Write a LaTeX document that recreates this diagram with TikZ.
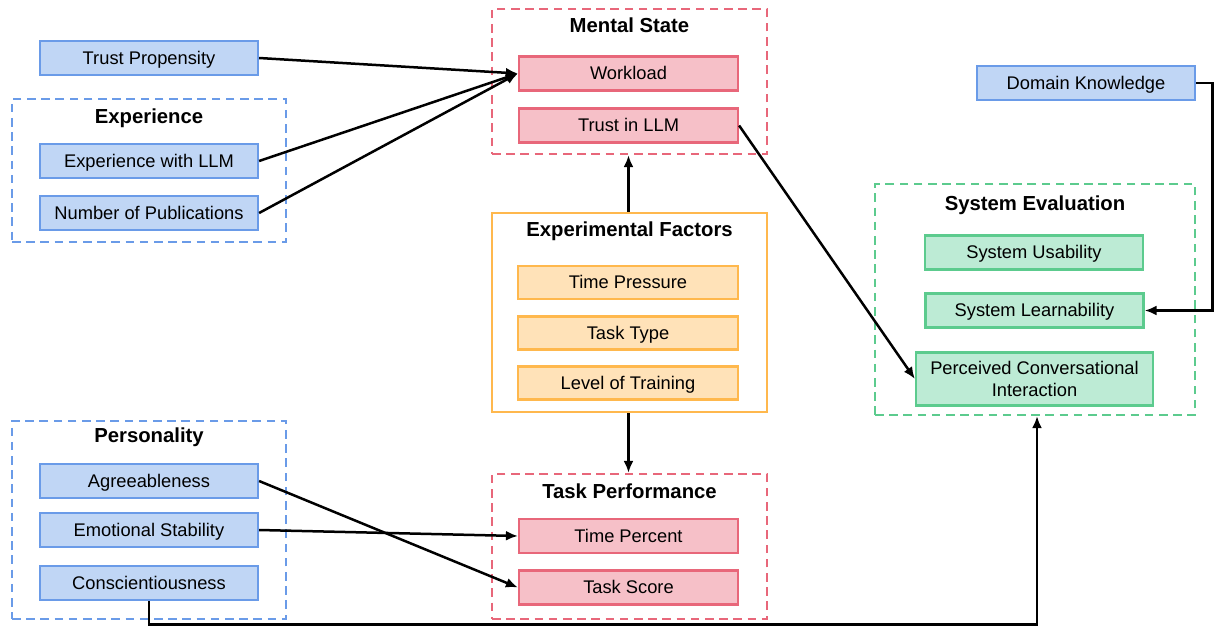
\documentclass[tikz,border=0pt]{standalone}
\usepackage{fontspec}
\setmainfont{Liberation Sans}
\usetikzlibrary{arrows.meta}
\definecolor{bfill}{RGB}{192,214,245}
\definecolor{bline}{RGB}{106,155,232}
\definecolor{rfill}{RGB}{246,192,200}
\definecolor{rline}{RGB}{232,103,122}
\definecolor{ofill}{RGB}{255,226,184}
\definecolor{oline}{RGB}{255,184,77}
\definecolor{gfill}{RGB}{189,235,213}
\definecolor{gline}{RGB}{92,203,142}
\tikzset{
  box/.style={draw, line width=1.1pt, minimum height=17pt, inner sep=1pt, align=center,
    text height=6.3pt, text depth=0pt,
    font=\fontsize{9.15}{11}\selectfont},
  bluebox/.style={box, fill=bfill, draw=bline, minimum width=109pt},
  redbox/.style={box, fill=rfill, draw=rline, minimum width=109.5pt},
  orangebox/.style={box, fill=ofill, draw=oline, minimum width=110pt, minimum height=16.5pt},
  greenbox/.style={box, fill=gfill, draw=gline, minimum width=109pt},
  group/.style={line width=1.1pt, dash pattern=on 4.3pt off 2.8pt, inner sep=0pt},
  title/.style={font=\fontsize{10.15}{12}\bfseries\selectfont, inner sep=0pt, text height=7.2pt, text depth=0pt},
  arr/.style={line width=1.25pt, -{Latex[length=6pt,width=5pt]}},
}
\begin{document}
\begin{tikzpicture}[x=0.5pt,y=-0.5pt]
\useasboundingbox (0,0) rectangle (1214,626);
% groups
\node[group, draw=bline, minimum width=137pt, minimum height=71.5pt] (gexp) at (149,170.5) {};
\node[title] (texp) at (149,116) {Experience};
\node[group, draw=bline, minimum width=137pt, minimum height=99pt] (gper) at (149,520) {};
\node[title] (tper) at (149,435) {Personality};
\node[group, draw=rline, minimum width=137.5pt, minimum height=72.5pt] (gms) at (629.5,81.5) {};
\node[title] (tms) at (629.5,25) {Mental State};
\node[draw=oline, line width=1.1pt, inner sep=0pt, minimum width=137.5pt, minimum height=99.5pt] (gef) at (629.5,312.5) {};
\node[title] (tef) at (629.5,229) {Experimental Factors};
\node[group, draw=rline, minimum width=137.5pt, minimum height=72.5pt] (gtp) at (629.5,546.5) {};
\node[title] (ttp) at (629.5,491) {Task Performance};
\node[group, draw=gline, minimum width=160pt, minimum height=115.5pt] (gse) at (1035,299.5) {};
\node[title] (tse) at (1035,203) {System Evaluation};
% blue boxes
\node[bluebox] (tp) at (149,58) {Trust Propensity};
\node[bluebox] (ewl) at (149,161) {Experience with LLM};
\node[bluebox] (nop) at (149,213) {Number of Publications};
\node[bluebox] (agr) at (149,481) {Agreeableness};
\node[bluebox] (emo) at (149,530) {Emotional Stability};
\node[bluebox] (con) at (149,583) {Conscientiousness};
\node[bluebox] (dk) at (1086,83) {Domain Knowledge};
% red boxes
\node[redbox] (wl) at (628.5,73.5) {Workload};
\node[redbox] (til) at (628.5,125.5) {Trust in LLM};
\node[redbox] (tpc) at (628.5,536) {Time Percent};
\node[redbox] (ts) at (628.5,587.5) {Task Score};
% orange boxes
\node[orangebox] (tpr) at (628,282.5) {Time Pressure};
\node[orangebox] (tt) at (628,333) {Task Type};
\node[orangebox] (lot) at (628,383) {Level of Training};
% green boxes
\node[greenbox] (su) at (1034,252.5) {System Usability};
\node[greenbox] (sl) at (1034.5,310.5) {System Learnability};
\node[greenbox, minimum width=118.5pt, minimum height=26.5pt, inner sep=0pt, text height=, text depth=] (pci) at (1034.5,379) {Perceived Conversational\\[0.2pt]Interaction};
% helper coordinates
\coordinate (bot) at (0,624.5);
\coordinate (rgt) at (1212.5,0);
% connectors
\draw[arr] (tp.east) -- (wl.west);
\draw[arr] (ewl.east) -- (wl.west);
\draw[arr] (nop.east) -- (wl.west);
\draw[arr] (gef.north -| wl.south) -- (gms.south -| wl.south);
\draw[arr] (gef.south -| wl.south) -- (gtp.north -| wl.south);
\draw[arr] (til.east) -- (pci.west);
\draw[arr] (emo.east) -- (tpc.west);
\draw[arr] (agr.east) -- (ts.west);
\draw[arr] (dk.east) -- (dk.east -| rgt) |- (sl.east);
\draw[arr] (con.south) -- (con.south |- bot) -| ([xshift=1pt]gse.south);
\end{tikzpicture}
\end{document}
